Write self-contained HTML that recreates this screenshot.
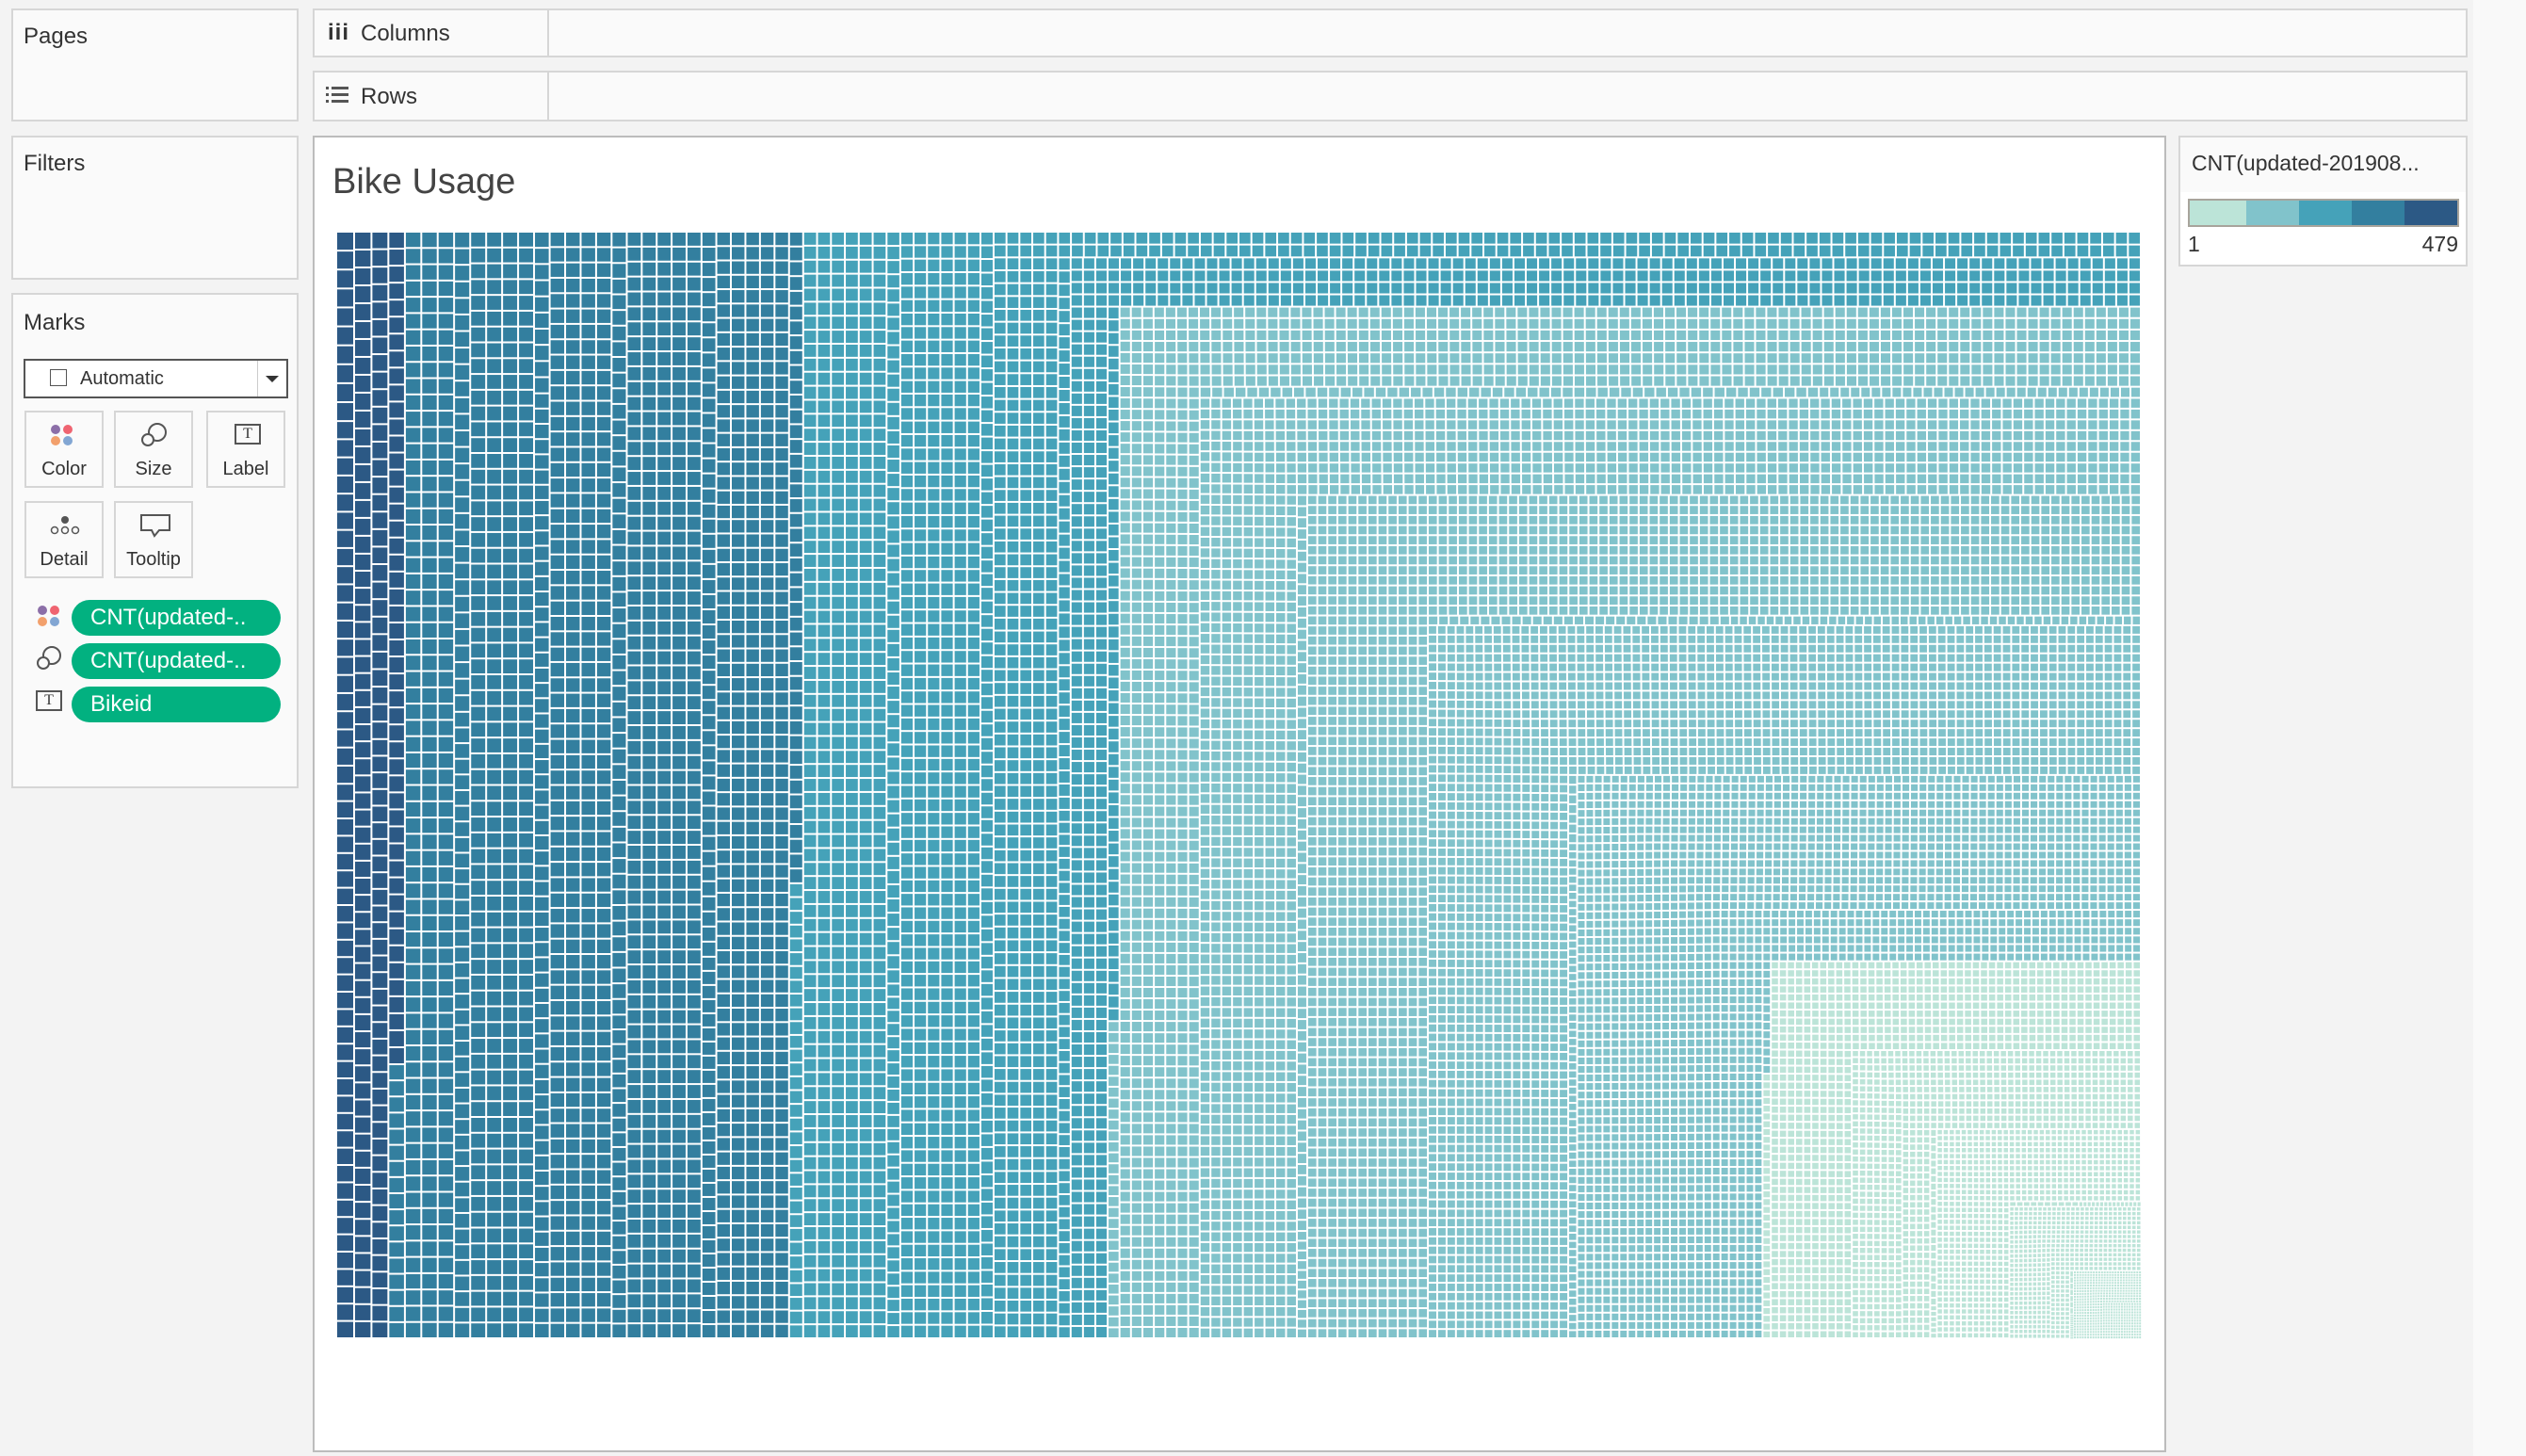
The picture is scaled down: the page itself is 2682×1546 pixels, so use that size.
<!DOCTYPE html>
<html><head><meta charset="utf-8"><style>
*{box-sizing:border-box;margin:0;padding:0}
body{width:2682px;height:1546px;background:#f3f3f3;font-family:"Liberation Sans",sans-serif;color:#333;position:relative;overflow:hidden}
.panel{position:absolute;background:#fafafa;border:2px solid #d6d6d6}
.lbl{position:absolute;font-size:24px;color:#333}
.btn{position:absolute;border:2px solid #d6d6d6;background:#fafafa;font-size:20px;text-align:center}
.btn span{position:absolute;bottom:6px;left:0;right:0}
.pill{position:absolute;left:62px;width:222px;height:38px;border-radius:19px;background:#02b180;color:#fff;font-size:24px;line-height:38px;padding-left:20px}
</style></head><body>
<div style="position:absolute;left:2626px;top:0;width:56px;height:1546px;background:#f9f9f9"></div>
<div class="panel" style="left:12px;top:9px;width:305px;height:120px"><div class="lbl" style="left:11px;top:14px">Pages</div></div>
<div class="panel" style="left:12px;top:144px;width:305px;height:153px"><div class="lbl" style="left:11px;top:14px">Filters</div></div>
<div class="panel" style="left:12px;top:311px;width:305px;height:526px">
 <div class="lbl" style="left:11px;top:16px">Marks</div>
 <div style="position:absolute;left:11px;top:68px;width:281px;height:42px;border:2px solid #555;background:#fff;font-size:20px">
  <div style="position:absolute;left:26px;top:9px;width:18px;height:18px;border:1.5px solid #555"></div>
  <div style="position:absolute;left:58px;top:8px">Automatic</div>
  <div style="position:absolute;right:30px;top:0;width:1px;height:38px;background:#ccc"></div>
  <div style="position:absolute;right:8px;top:16px;border-left:7px solid transparent;border-right:7px solid transparent;border-top:7px solid #333"></div>
 </div>
 <div class="btn" style="left:12px;top:123px;width:84px;height:82px">
  <svg width="40" height="30" style="position:absolute;left:20px;top:10px"><circle cx="11" cy="8" r="5" fill="#8c6fa8"/><circle cx="24" cy="8" r="5" fill="#ef6471"/><circle cx="11" cy="20" r="5" fill="#f2a06c"/><circle cx="24" cy="20" r="5" fill="#82a6d3"/></svg><span>Color</span></div>
 <div class="btn" style="left:107px;top:123px;width:84px;height:82px">
  <svg width="40" height="30" style="position:absolute;left:24px;top:10px"><circle cx="20" cy="11" r="9" fill="none" stroke="#555" stroke-width="2"/><circle cx="10" cy="19" r="6" fill="#fafafa" stroke="#555" stroke-width="2"/></svg><span>Size</span></div>
 <div class="btn" style="left:205px;top:123px;width:84px;height:82px">
  <div style="position:absolute;left:28px;top:12px;width:28px;height:22px;border:2px solid #555;font-family:'Liberation Serif',serif;font-size:16px;line-height:18px">T</div><span>Label</span></div>
 <div class="btn" style="left:12px;top:219px;width:84px;height:82px">
  <svg width="40" height="30" style="position:absolute;left:22px;top:10px"><circle cx="19" cy="8" r="4" fill="#555"/><circle cx="8" cy="19" r="3.5" fill="none" stroke="#555" stroke-width="1.5"/><circle cx="19" cy="19" r="3.5" fill="none" stroke="#555" stroke-width="1.5"/><circle cx="30" cy="19" r="3.5" fill="none" stroke="#555" stroke-width="1.5"/></svg><span>Detail</span></div>
 <div class="btn" style="left:107px;top:219px;width:84px;height:82px">
  <svg width="40" height="32" style="position:absolute;left:24px;top:10px"><path d="M3 3 H33 V19 H22 L17 25 L14 19 H3 Z" fill="none" stroke="#555" stroke-width="2"/></svg><span>Tooltip</span></div>
 <svg width="30" height="28" style="position:absolute;left:24px;top:328px"><circle cx="7" cy="7" r="5" fill="#8c6fa8"/><circle cx="20" cy="7" r="5" fill="#ef6471"/><circle cx="7" cy="19" r="5" fill="#f2a06c"/><circle cx="20" cy="19" r="5" fill="#82a6d3"/></svg>
 <div class="pill" style="top:324px">CNT(updated-..</div>
 <svg width="30" height="28" style="position:absolute;left:24px;top:372px"><circle cx="17" cy="11" r="9" fill="none" stroke="#555" stroke-width="2"/><circle cx="8" cy="19" r="6" fill="#fafafa" stroke="#555" stroke-width="2"/></svg>
 <div class="pill" style="top:370px">CNT(updated-..</div>
 <div style="position:absolute;left:24px;top:420px;width:28px;height:22px;border:2px solid #555;font-family:'Liberation Serif',serif;font-size:16px;line-height:18px;text-align:center">T</div>
 <div class="pill" style="top:416px">Bikeid</div>
</div>
<div class="panel" style="left:332px;top:9px;width:2288px;height:52px">
 <div style="position:absolute;left:14px;top:10px;font-size:24px;font-weight:bold;letter-spacing:1px">iii</div>
 <div class="lbl" style="left:49px;top:11px">Columns</div>
 <div style="position:absolute;left:247px;top:0;width:2px;height:48px;background:#d6d6d6"></div>
</div>
<div class="panel" style="left:332px;top:75px;width:2288px;height:54px">
 <svg width="26" height="22" style="position:absolute;left:12px;top:14px"><g fill="#555"><rect x="0" y="1" width="3" height="3"/><rect x="6" y="1" width="18" height="3"/><rect x="0" y="8" width="3" height="3"/><rect x="6" y="8" width="18" height="3"/><rect x="0" y="15" width="3" height="3"/><rect x="6" y="15" width="18" height="3"/></g></svg>
 <div class="lbl" style="left:49px;top:12px">Rows</div>
 <div style="position:absolute;left:247px;top:0;width:2px;height:50px;background:#d6d6d6"></div>
</div>
<div style="position:absolute;left:332px;top:144px;width:1968px;height:1398px;background:#fff;border:2px solid #bcbcbc">
 <div style="position:absolute;left:19px;top:26px;font-size:38px;color:#444">Bike Usage</div>
</div>
<div class="panel" style="left:2313px;top:144px;width:307px;height:139px;background:#fff">
 <div style="position:absolute;left:0;top:0;width:303px;height:58px;background:#fafafa"></div>
 <div class="lbl" style="left:12px;top:14px;font-size:23px">CNT(updated-201908...</div>
 <svg width="290" height="32" style="position:absolute;left:7px;top:64px">
  <rect x="1" y="1" width="288" height="30" fill="#a8a49c"/>
  <rect x="3" y="3" width="60" height="26" fill="#bce4d8"/><rect x="63" y="3" width="56" height="26" fill="#81c3cb"/><rect x="119" y="3" width="56" height="26" fill="#45a2b9"/><rect x="175" y="3" width="56" height="26" fill="#337f9f"/><rect x="231" y="3" width="56" height="26" fill="#2c5985"/>
 </svg>
 <div class="lbl" style="left:8px;top:100px;font-size:23px">1</div>
 <div class="lbl" style="right:8px;top:100px;font-size:23px">479</div>
</div>
<svg id="tm" width="1916" height="1175" style="position:absolute;left:358px;top:247px"></svg>
<script>
// count level (trips per bike) and number of bikes at that level
const countLevels = [470,450,430,410,390,370,350,330,310,290,270,250,230,210,180,160,140,120,100,90,70,50,30,10];
const bikesAtLevel = [10,20,50,75,85,250,330,400,440,456,560,600,640,700,1300,1600,1900,2200,2500,900,800,700,600,650];
const colorSteps = ["#bce4d8","#81c3cb","#45a2b9","#337f9f","#2c5985"];
const maxCount = 479, minCount = 1;

const W = 1916, H = 1175;
const items = [];
for (let i = 0; i < countLevels.length; i++) for (let k = 0; k < bikesAtLevel[i]; k++) items.push(countLevels[i]);
items.sort((a,b)=>b-a);
const total = items.reduce((s,v)=>s+v,0);
const scale = W*H/total;
function colorFor(v){ let b = Math.floor((v-minCount)/((maxCount-minCount)/5)); return colorSteps[Math.max(0,Math.min(4,b))]; }
const rects = [];
function worst(row, side){ let s=0,mx=-1,mn=1e18; for(const a of row){s+=a;mx=Math.max(mx,a);mn=Math.min(mn,a);} const s2=s*s, w2=side*side; return Math.max(w2*mx/s2, s2/(w2*mn)); }
function squarify(){
  let x=0,y=0,w=W,h=H,i=0;
  while(i<items.length){
    const side=Math.min(w,h); let row=[items[i]*scale], idx=[i]; i++;
    while(i<items.length){ const a=items[i]*scale; const nr=row.concat([a]); if(worst(nr,side)<=worst(row,side)){row=nr;idx.push(i);i++;} else break; }
    const s=row.reduce((p,q)=>p+q,0);
    if(w>=h){ const cw=s/h; let cy=y; for(let j=0;j<row.length;j++){const ch=row[j]/cw; rects.push([x,cy,cw,ch,items[idx[j]]]); cy+=ch;} x+=cw; w-=cw; }
    else { const ch=s/w; let cx=x; for(let j=0;j<row.length;j++){const cw=row[j]/ch; rects.push([cx,y,cw,ch,items[idx[j]]]); cx+=cw;} y+=ch; h-=ch; }
  }
}
squarify();
const svg=document.getElementById('tm'); const ns='http://www.w3.org/2000/svg';
const frag=document.createDocumentFragment();
for(const r of rects){
  const el=document.createElementNS(ns,'rect');
  const g=Math.min(2, r[2]*0.3, r[3]*0.3);
  el.setAttribute('x',(r[0]).toFixed(2)); el.setAttribute('y',(r[1]).toFixed(2));
  el.setAttribute('width',Math.max(0,r[2]-g).toFixed(2)); el.setAttribute('height',Math.max(0,r[3]-g).toFixed(2));
  el.setAttribute('fill',colorFor(r[4]));
  
  
  frag.appendChild(el);
}
svg.appendChild(frag);
</script>
</body></html>
